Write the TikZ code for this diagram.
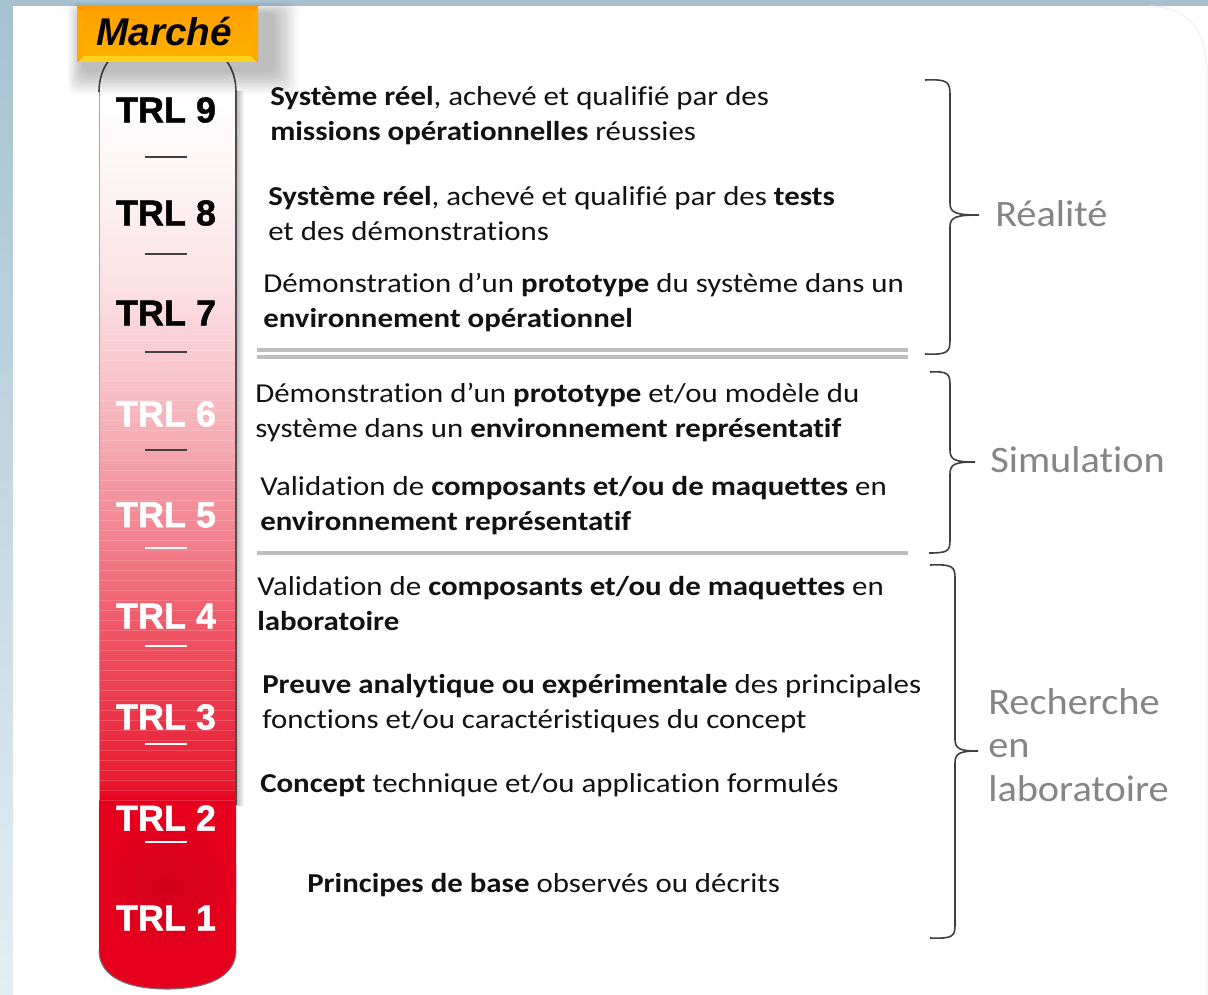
\documentclass[tikz,border=0pt]{standalone}
\usepackage{fontspec}
\setmainfont{Carlito}[FakeStretch=1.13, Ligatures=NoCommon]
\newfontfamily\trlfont{Liberation Sans}[BoldFeatures={FakeBold=1.2}]
\newfontfamily\sidefont{Carlito}[FakeStretch=1.08, Ligatures=NoCommon]
\definecolor{bgtop}{HTML}{A6C2D1}
\definecolor{bgbot}{HTML}{E3EEF4}
\definecolor{txt}{HTML}{121212}
\definecolor{sidegray}{HTML}{858585}
\definecolor{bracegray}{HTML}{404040}
\definecolor{sepgray}{HTML}{BEBEBE}
\definecolor{tubered}{HTML}{E6001E}
\definecolor{tubedark}{HTML}{D2001A}
\definecolor{orA}{HTML}{FF9C00}
\definecolor{orB}{HTML}{FFAA00}
\definecolor{orC}{HTML}{FFD21A}
\definecolor{orLine}{HTML}{EE8A00}
\begin{document}
\begin{tikzpicture}[x=0.75pt,y=-0.75pt,
  desc/.style={anchor=base west, inner sep=0pt, align=left, text=txt,
    font=\fontsize{20.5pt}{26.25pt}\selectfont},
  trl/.style={inner sep=0pt, font=\trlfont\bfseries\fontsize{27pt}{27pt}\selectfont},
  trldark/.style={trl, text=black},
  trllight/.style={trl, text=white},
  tickdark/.style={draw=black!75, line width=1.5pt},
  ticklight/.style={draw=white, line width=1.5pt},
  bracestyle/.style={draw=bracegray, line width=1.2pt},
  side/.style={anchor=base west, inner sep=0pt, align=left, text=sidegray,
    font=\sidefont\fontsize{28pt}{32.5pt}\selectfont},
  sepline/.style={draw=sepgray, line width=2.4pt}]

\useasboundingbox (0,0) rectangle (1208,995);
% background
\shade[top color=bgtop, bottom color=bgbot] (0,0) rectangle (1208,995);
\fill[white] (13,6) rectangle (1208,995);
\draw[black!6, line width=0.8pt] (1150,6) .. controls (1190,8) and (1205,30) .. (1207,70) -- (1207,995);

% tube
\path[save path=\tubep] (99,950) -- (99,92) .. controls (99,72) and (108,58) .. (120,50) -- (215,50)
  .. controls (227,58) and (236,72) .. (236,92) -- (236,950)
  .. controls (236,978) and (205,989) .. (167,989) .. controls (129,989) and (99,978) .. (99,950) -- cycle;
\begin{scope}
\clip[use path=\tubep];
\fill[white] (90,40) rectangle (245,92);
\shade[top color=white, bottom color={rgb,255:red,253;green,241;blue,243}] (90,90) rectangle (245,201);
\shade[top color={rgb,255:red,253;green,241;blue,243}, bottom color={rgb,255:red,251;green,221;blue,225}] (90,200) rectangle (245,301);
\shade[top color={rgb,255:red,251;green,221;blue,225}, bottom color={rgb,255:red,248;green,194;blue,200}] (90,300) rectangle (245,381);
\shade[top color={rgb,255:red,248;green,194;blue,200}, bottom color={rgb,255:red,245;green,162;blue,171}] (90,380) rectangle (245,461);
\shade[top color={rgb,255:red,245;green,162;blue,171}, bottom color={rgb,255:red,243;green,128;blue,140}] (90,460) rectangle (245,541);
\shade[top color={rgb,255:red,243;green,128;blue,140}, bottom color={rgb,255:red,240;green,90;blue,105}] (90,540) rectangle (245,621);
\shade[top color={rgb,255:red,240;green,90;blue,105}, bottom color={rgb,255:red,236;green,58;blue,78}] (90,620) rectangle (245,701);
\shade[top color={rgb,255:red,236;green,58;blue,78}, bottom color={rgb,255:red,233;green,28;blue,52}] (90,700) rectangle (245,781);
\shade[top color={rgb,255:red,233;green,28;blue,52}, bottom color=tubered] (90,780) rectangle (245,801);
\fill[tubered] (90,800) rectangle (245,1000);
\shade[inner color=tubedark, outer color=tubered] (167,885) circle (72);
\foreach \yy in {330,340,...,800} \draw[white, opacity=0.16, line width=0.6pt] (99,\yy) -- (236,\yy);
\end{scope}
% tube borders
\draw[black!35, line width=0.6pt] (99,800) -- (99,92);
\draw[black!70, line width=1.2pt] (99,92) .. controls (99,72) and (108,58) .. (120,50);
\draw[black!70, line width=1.2pt] (215,50) .. controls (227,58) and (236,72) .. (236,92) -- (236,805);
\shade[left color=black!25, right color=white] (237,92) rectangle (244,805);
\draw[black!55, line width=0.8pt] (236,950) .. controls (236,978) and (205,989) .. (167,989) .. controls (129,989) and (99,978) .. (99,950);

% Marche box with shadow
\foreach \i in {1,...,10}
  \fill[black, opacity=0.028, rounded corners=6] ({84-1.6*\i},{14-1.2*\i}) rectangle ({272+2.6*\i},{70+2.4*\i});
\fill[orB] (77,6) rectangle (258,62);
\fill[orA] (77,6) -- (258,6) -- (252,11) -- (83,11) -- cycle;
\fill[orC] (77,62) -- (83,56) -- (252,56) -- (258,62) -- cycle;
\fill[orB] (258,6) -- (258,62) -- (252,56) -- (252,11) -- cycle;
\shade[top color={rgb,255:red,255;green,160;blue,0}, bottom color={rgb,255:red,255;green,176;blue,0}] (83,11) rectangle (252,56);
\draw[orLine, line width=0.5pt] (77,6) -- (83,11) (258,6) -- (252,11) (77,62) -- (83,56) (258,62) -- (252,56);
\node[inner sep=0pt, font=\trlfont\bfseries\itshape\fontsize{29pt}{29pt}\selectfont] (marche) at (164,32) {Marché};

% TRL labels
\node[trldark]  (trl9) at (166,110) {TRL 9};
\node[trldark]  (trl8) at (166,213) {TRL 8};
\node[trldark]  (trl7) at (166,313) {TRL 7};
\node[trllight] (trl6) at (166,414) {TRL 6};
\node[trllight] (trl5) at (166,515) {TRL 5};
\node[trllight] (trl4) at (166,616) {TRL 4};
\node[trllight] (trl3) at (166,717) {TRL 3};
\node[trllight] (trl2) at (166,818) {TRL 2};
\node[trllight] (trl1) at (166,918) {TRL 1};
\foreach \yy in {157,254,352,450} \draw[tickdark] (145,\yy) -- (187,\yy);
\foreach \yy in {548,646,744,842} \draw[ticklight] (145,\yy) -- (187,\yy);

% descriptions (anchor: baseline of the last line)
\node[desc] (d9) at (270,141) {\textbf{Système réel}, achevé et qualifié par des\\\textbf{missions opérationnelles} réussies};
\node[desc] (d8) at (268,241) {\textbf{Système réel}, achevé et qualifié par des \textbf{tests}\\et des démonstrations};
\node[desc] (d7) at (263,328) {Démonstration d’un \textbf{prototype} du système dans un\\\textbf{environnement opérationnel}};
\node[desc] (d6) at (255,437) {Démonstration d’un \textbf{prototype} et/ou modèle du\\système dans un \textbf{environnement représentatif}};
\node[desc] (d5) at (260,530) {Validation de \textbf{composants et/ou de maquettes} en\\\textbf{environnement représentatif}};
\node[desc] (d4) at (257,630) {Validation de \textbf{composants et/ou de maquettes} en\\\textbf{laboratoire}};
\node[desc] (d3) at (262,728) {\textbf{Preuve analytique ou expérimentale} des principales\\fonctions et/ou caractéristiques du concept};
\node[desc] (d2) at (260,792) {\textbf{Concept} technique et/ou application formulés};
\node[desc] (d1) at (307,892) {\textbf{Principes de base} observés ou décrits};

% separators
\draw[sepline] (257,350) -- (908,350);
\draw[sepline] (257,357) -- (908,357);
\draw[sepline] (257,553) -- (908,553);

% braces
\coordinate (tipR) at (979,215);
\coordinate (tipS) at (975,462);
\coordinate (tipL) at (978,751);
\draw[bracestyle] (925,80) .. controls (948,79) and (950,82) .. (950,95) -- (950,203)
  .. controls (950,213) and (956,215) .. (tipR) .. controls (956,215) and (950,217) .. (950,227)
  -- (950,340) .. controls (950,352) and (948,355) .. (925,354);
\draw[bracestyle] (930,372) .. controls (948,371) and (950,374) .. (950,385) -- (950,450)
  .. controls (950,460) and (955,462) .. (tipS) .. controls (955,462) and (950,464) .. (950,474)
  -- (950,540) .. controls (950,551) and (948,553) .. (929,553);
\draw[bracestyle] (930,565) .. controls (953,564) and (955,567) .. (955,578) -- (955,739)
  .. controls (955,749) and (960,751) .. (tipL) .. controls (960,751) and (955,753) .. (955,763)
  -- (955,925) .. controls (955,936) and (953,939) .. (930,938);

% side labels
\node[side] (lr) at (995,227) {Réalité};
\node[side] (ls) at (990,472) {Simulation};
\node[side] (ll) at (988,801) {Recherche\\en\\laboratoire};
\end{tikzpicture}
\end{document}
